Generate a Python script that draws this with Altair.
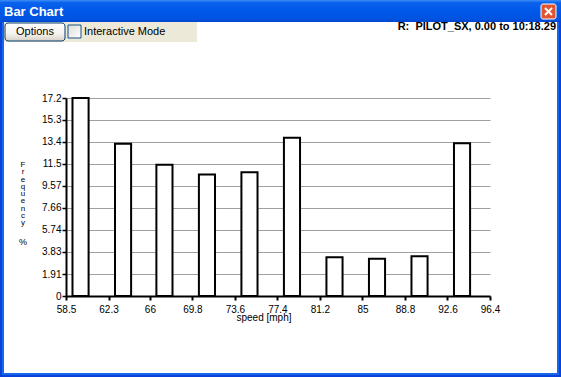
import altair as alt
import pandas as pd

# ---- data ----
bin_lo = [58.5, 62.3, 66, 69.8, 73.6, 77.4, 81.2, 85, 88.8, 92.6]
freq = [17.2, 13.23, 11.4, 10.55, 10.75, 13.75, 3.36, 3.24, 3.45, 13.27]
x_ticks = [58.5, 62.3, 66, 69.8, 73.6, 77.4, 81.2, 85, 88.8, 92.6, 96.4]
y_ticks = [0, 1.91, 3.83, 5.74, 7.66, 9.57, 11.5, 13.4, 15.3, 17.2]

W, H = 561, 377
L, T = 66, 98          # plot-area origin in the window
PW, PH = 424, 198      # plot-area size

df = pd.DataFrame({"lo": bin_lo, "freq": freq})
one = pd.DataFrame({"a": [0]})
FONT = "Liberation Sans"


def px(v):
    return v - L


def py(v):
    return v - T


def box(x1, y1, x2, y2, **kw):
    return alt.Chart(one).mark_rect(**kw).encode(
        x=alt.value(px(x1)), x2=alt.value(px(x2)),
        y=alt.value(py(y1)), y2=alt.value(py(y2)))


def label(x, y, s, **kw):
    return alt.Chart(one).mark_text(**kw).encode(
        x=alt.value(px(x)), y=alt.value(py(y)), text=alt.value(s))


def line(x1, y1, x2, y2, **kw):
    return alt.Chart(one).mark_rule(**kw).encode(
        x=alt.value(px(x1)), x2=alt.value(px(x2)),
        y=alt.value(py(y1)), y2=alt.value(py(y2)))


title_grad = alt.Gradient(
    gradient="linear", x1=0, y1=0, x2=0, y2=1,
    stops=[alt.GradientStop(color="#3d8ef7", offset=0),
           alt.GradientStop(color="#0a62ec", offset=0.12),
           alt.GradientStop(color="#0058e8", offset=0.5),
           alt.GradientStop(color="#0053e0", offset=0.88),
           alt.GradientStop(color="#0043cc", offset=1)])
btn_grad = alt.Gradient(
    gradient="linear", x1=0, y1=0, x2=0, y2=1,
    stops=[alt.GradientStop(color="#ffffff", offset=0),
           alt.GradientStop(color="#f4f3ee", offset=0.6),
           alt.GradientStop(color="#d6d0c5", offset=1)])
chk_grad = alt.Gradient(
    gradient="linear", x1=0, y1=0, x2=1, y2=1,
    stops=[alt.GradientStop(color="#dcdcd7", offset=0),
           alt.GradientStop(color="#ffffff", offset=1)])

frame = [
    box(0, 0, W, 22, fill=title_grad),
    box(0, 22, 4, H, fill="#0842d8"),
    box(2, 22, 4, H - 2, fill="#1666ee"),
    box(W - 4, 22, W, H, fill="#0842d8"),
    box(W - 4, 22, W - 2, H - 2, fill="#1666ee"),
    box(0, H - 4, W, H, fill="#0842d8"),
    box(2, H - 4, W - 2, H - 2, fill="#1666ee"),
    box(4, 22, 197, 42, fill="#ece9d8"),
    box(5, 23, 65, 41, fill=btn_grad, stroke="#003c74", strokeWidth=1, cornerRadius=3),
    box(68, 25, 81, 38, fill=chk_grad, stroke="#1c5180", strokeWidth=1),
    box(541, 4, 556, 19, fill="#e0552f", stroke="#ffffff", strokeWidth=1, cornerRadius=2),
    line(545, 8, 552, 15, color="white", strokeWidth=2),
    line(552, 8, 545, 15, color="white", strokeWidth=2),
    label(4, 12, "Bar Chart", font=FONT, fontSize=13, fontWeight="bold",
          color="white", align="left", baseline="middle"),
    label(35, 32, "Options", font=FONT, fontSize=11, color="black",
          align="center", baseline="middle"),
    label(84, 32, "Interactive Mode", font=FONT, fontSize=11, color="black",
          align="left", baseline="middle"),
    label(556, 27, "R:\u00a0\u00a0PILOT_SX, 0.00 to 10:18.29", font=FONT, fontSize=11,
          fontWeight="bold", color="black", align="right", baseline="middle"),
    label(23, 161, "F\nr\ne\nq\nu\ne\nn\nc\ny", font=FONT, fontSize=8,
          lineBreak="\n", lineHeight=7.25, color="black", align="center", baseline="top"),
    label(23, 242, "%", font=FONT, fontSize=9, color="black",
          align="center", baseline="middle"),
    label(264, 318, "speed [mph]", font=FONT, fontSize=10, color="black",
          align="center", baseline="middle"),
]

xs = alt.Scale(domain=[58.5, 96.4], nice=False, zero=False)
ys = alt.Scale(domain=[0, 17.2], nice=False, zero=True)

bars = alt.Chart(df).transform_calculate(
    xa="datum.lo + 0.58", xb="datum.lo + 2.02"
).mark_rect(fill="white", stroke="black", strokeWidth=2).encode(
    x=alt.X("xa:Q", scale=xs, axis=alt.Axis(
        values=x_ticks, labelExpr="datum.value + ''", title=None, grid=False,
        domainColor="black", domainWidth=2, tickColor="black", tickWidth=2,
        tickSize=4, labelPadding=4, labelFont=FONT, labelFontSize=10,
        labelColor="black", labelFlush=False)),
    x2="xb:Q",
    y=alt.Y("freq:Q", scale=ys, axis=alt.Axis(
        values=y_ticks, labelExpr="datum.value + ''", title=None, grid=True,
        gridColor="#a0a0a0", gridWidth=1,
        domainColor="black", domainWidth=2, tickColor="black", tickWidth=1.5,
        tickSize=4, labelPadding=1, labelFont=FONT, labelFontSize=10,
        labelColor="black", labelFlush=False)),
    y2=alt.datum(0),
)

chart = alt.layer(*frame, bars).properties(
    width=PW, height=PH,
    padding={"left": L, "top": T, "right": W - L - PW, "bottom": H - T - PH},
    autosize=alt.AutoSizeParams(type="none"),
    background="white",
).configure_view(stroke=None)

chart.save("out.html", embed_options={"renderer": "svg", "actions": False})
